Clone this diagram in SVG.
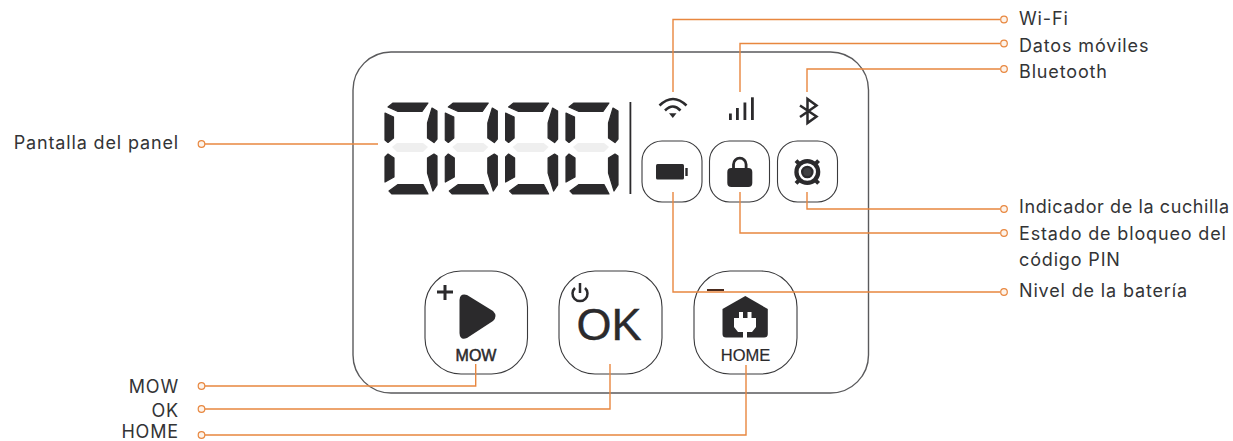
<svg xmlns="http://www.w3.org/2000/svg" width="1233" height="441" viewBox="0 0 1233 441">
<style>
.lbl{font-family:"Inter","Liberation Sans",sans-serif;font-size:18px;fill:#333436;letter-spacing:.85px}
.btn{fill:#fff;stroke:#3a3a3c;stroke-width:1.100}
.con{fill:none;stroke:#e8873f;stroke-width:1.400}
.ring{fill:#fdf3ea;stroke:#e8873f;stroke-width:1.200}
.ink{fill:#2b2a2c}
.seg{fill:#2b2a2c;stroke:#2b2a2c;stroke-width:1.200;stroke-linejoin:round}
.inks{fill:none;stroke:#2b2a2c}
.btxt{font-family:"Liberation Sans",sans-serif;fill:#2b2a2c;stroke:#2b2a2c;text-anchor:middle}
</style>
<defs>
<g id="digit">
<polygon class="seg" points="4,5 9,1 44,1 38,9.500 14,9.500"/>
<polygon class="seg" points="1,11 9.500,15 9.500,36 4,40.500 1,38"/>
<polygon class="seg" points="48,6 53,9 53,37 50,40.500 43.500,36 43.500,21"/>
<polygon class="seg" points="1,55 4,52 10,56 10,75 1,80"/>
<polygon class="seg" points="50,52 53,54 53,83 49,89 43.500,71 43.500,56"/>
<polygon class="seg" points="5,89 14,82.500 39,82.500 44,92 8,92"/>
<polygon fill="#efefef" points="8,45 13,41 39,41 44,45 39,50 13,50"/>
</g>
</defs>
<rect id="panel" x="353" y="52" width="515.500" height="341" rx="38" fill="#fff" stroke="#5a5a5c" stroke-width="1.400"/>
<g id="display">
<use href="#digit" x="384" y="102"/>
<use href="#digit" x="444.300" y="102"/>
<use href="#digit" x="504.600" y="102"/>
<use href="#digit" x="565" y="102"/>
<rect x="629.500" y="102" width="1.800" height="92" class="ink"/>
</g>
<g id="wifi-icon">
<path class="inks" stroke-width="2.600" d="M659.500 105.500Q673 92.500 686.500 105.500M665 110.500Q673 102.500 680.500 110.500"/>
<polygon class="ink" points="669,113.300 676.500,113.300 672.800,118"/>
</g>
<g id="signal-icon">
<rect class="ink" x="729" y="113.500" width="2.800" height="6.500"/>
<rect class="ink" x="736" y="108" width="2.800" height="12"/>
<rect class="ink" x="743.500" y="102.500" width="2.800" height="17.500"/>
<rect class="ink" x="751" y="97.300" width="2.800" height="22.700"/>
</g>
<g id="bluetooth-icon">
<path class="inks" stroke-width="2.500" d="M800 105.500L816.500 116.500L807.500 123V99L816.500 105.500L800 117"/>
</g>
<g id="battery-button">
<rect class="btn" x="642" y="141" width="60" height="61" rx="20"/>
<rect class="ink" x="656" y="164" width="28" height="15.500" rx="1.500"/>
<rect class="ink" x="685.300" y="168" width="2.400" height="8"/>
</g>
<g id="lock-button">
<rect class="btn" x="709.500" y="141" width="60" height="61" rx="20"/>
<rect class="ink" x="727.300" y="168" width="25" height="19" rx="4"/>
<path class="inks" stroke-width="2.800" d="M733.500 170V164.500A6.300 6.300 0 0 1 746.100 164.500V170"/>
</g>
<g id="blade-button">
<rect class="btn" x="777.500" y="141" width="60" height="61" rx="20"/>
<circle class="ink" cx="807.300" cy="172" r="13"/>
<path class="inks" stroke-width="4" d="M796 160.700L818.600 183.300M818.600 160.700L796 183.300"/>
<circle cx="807.300" cy="172" r="7.500" fill="none" stroke="#fff" stroke-width="2.400"/>
<circle cx="807.300" cy="172" r="4" fill="#3f3f41"/>
</g>
<g id="mow-button">
<rect class="btn" x="425" y="271" width="102.500" height="103" rx="36"/>
<path class="inks" stroke-width="3" d="M437 292H453M445 285V300"/>
<path class="ink" d="M459.500 300Q460 293 467 295L493 311Q498 316 493 321L467 338Q460 341 459.500 333Z"/>
<text class="btxt" x="476" y="360.500" font-size="16" stroke-width=".5">MOW</text>
</g>
<g id="ok-button">
<rect class="btn" x="559" y="271" width="103" height="103" rx="36"/>
<path class="inks" stroke-width="2.500" d="M580 283V293M575 288A7.500 7.500 0 1 0 585 288"/>
<text class="btxt" x="609" y="339.500" font-size="45" stroke-width=".4">OK</text>
</g>
<g id="home-button">
<rect class="btn" x="694" y="271" width="103" height="103" rx="36"/>
<rect x="707" y="289" width="17" height="2" fill="#4a2a1c"/>
<path class="ink" d="M745.300 296L767.800 309V334Q767.800 337.500 764 337.500H726Q722.500 337.500 722.500 334V309Z"/>
<path fill="#fff" d="M739 312H743V318H747.500V312H751.500V318H756V327L752 332H747V338H743V332H738L734 327V318H739Z"/>
<text class="btxt" x="745.500" y="360.500" font-size="16.500" stroke-width=".2">HOME</text>
</g>
<g id="connectors">
<path class="con" d="M673 92V19.500H1000"/>
<path class="con" d="M740 92V43.500H1000"/>
<path class="con" d="M807 92V69H1000"/>
<path class="con" d="M807 192V209H1000"/>
<path class="con" d="M740 192V233H1000"/>
<path class="con" d="M673 192V292H1000"/>
<path class="con" d="M475.700 364V386H205"/>
<path class="con" d="M610 364V409H205"/>
<path class="con" d="M746 365V435H205"/>
<path class="con" d="M378 144H205"/>
<circle class="ring" cx="1004" cy="19.500" r="3.300"/>
<circle class="ring" cx="1004" cy="43.500" r="3.300"/>
<circle class="ring" cx="1004" cy="69" r="3.300"/>
<circle class="ring" cx="1004" cy="209" r="3.300"/>
<circle class="ring" cx="1004" cy="233" r="3.300"/>
<circle class="ring" cx="1004" cy="292" r="3.300"/>
<circle class="ring" cx="201.500" cy="144" r="3.300"/>
<circle class="ring" cx="201.500" cy="386" r="3.300"/>
<circle class="ring" cx="201.500" cy="409" r="3.300"/>
<circle class="ring" cx="201.500" cy="435" r="3.300"/>
</g>
<g id="labels">
<text class="lbl" x="1019" y="25">Wi-Fi</text>
<text class="lbl" x="1019" y="51.500">Datos móviles</text>
<text class="lbl" x="1019" y="77.500">Bluetooth</text>
<text class="lbl" x="1019" y="213" style="letter-spacing:.6px">Indicador de la cuchilla</text>
<text class="lbl" x="1019" y="240">Estado de bloqueo del</text>
<text class="lbl" x="1019" y="266">código PIN</text>
<text class="lbl" x="1019" y="296.500">Nivel de la batería</text>
<text class="lbl" x="179" y="149.300" text-anchor="end">Pantalla del panel</text>
<text class="lbl" x="179" y="392.500" text-anchor="end">MOW</text>
<text class="lbl" x="179" y="417" text-anchor="end">OK</text>
<text class="lbl" x="179" y="437.500" text-anchor="end">HOME</text>
</g>
</svg>
